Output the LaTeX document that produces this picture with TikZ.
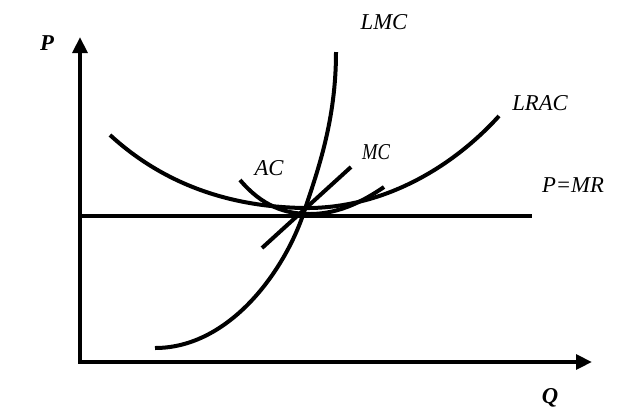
\documentclass[tikz,border=0pt]{standalone}
\usepackage{fontspec}
\setmainfont{Liberation Serif}
\usetikzlibrary{arrows.meta}

\begin{document}
\begin{tikzpicture}[x=0.75pt,y=-0.75pt,
  curve/.style={line width=3pt},
  axis/.style={line width=3pt,line join=miter,{Triangle[length=12pt,width=11pt]}-{Triangle[length=12pt,width=11pt]}},
  lbl/.style={font=\fontsize{17}{20}\selectfont\itshape,inner sep=0pt}]
  \useasboundingbox (0,0) rectangle (624,419);
  \coordinate (ytip) at (80,37);
  \coordinate (xtip) at (592,362);
  \coordinate (eq) at (304,212);
  \draw[axis] (ytip) |- (xtip);
  \node[lbl,font=\fontsize{17}{20}\selectfont\bfseries\itshape] (p) at (47,43) {P};
  \node[lbl,font=\fontsize{17}{20}\selectfont\bfseries\itshape] (q) at (550,398) {Q};
  % price line
  \coordinate (mr0) at (80,216);
  \coordinate (mr1) at (532,216);
  \draw[curve] (mr0) -- (mr1);
  \node[lbl] (pmr) at (573,185) {P=MR};
  % long run average cost
  \coordinate (lrac0) at (110,135);
  \coordinate (lracmin) at (304,208);
  \coordinate (lrac1) at (499,116);
  \draw[curve] (lrac0) .. controls (170,190) and (240,207) .. (lracmin)
    .. controls (380,209) and (450,170) .. (lrac1);
  \node[lbl] (lrac) at (540,103) {LRAC};
  % long run marginal cost
  \coordinate (lmc0) at (155,348);
  \coordinate (lmc1) at (336,52);
  \draw[curve] (lmc0) .. controls (230,348) and (285,270) .. (eq)
    .. controls (318,170) and (336,120) .. (lmc1);
  \node[lbl] (lmc) at (384,22) {LMC};
  % short run
  \coordinate (mc0) at (262,248);
  \coordinate (mc1) at (351,167);
  \draw[curve] (mc0) -- (mc1);
  \node[lbl,xscale=0.82] (mc) at (376,152) {MC};
  \coordinate (ac0) at (240,180);
  \coordinate (acmin) at (310,214);
  \coordinate (ac1) at (384,187);
  \draw[curve] (ac0) .. controls (262,206) and (285,214) .. (acmin)
    .. controls (340,214) and (365,200) .. (ac1);
  \node[lbl] (ac) at (269,168) {AC};
\end{tikzpicture}
\end{document}
